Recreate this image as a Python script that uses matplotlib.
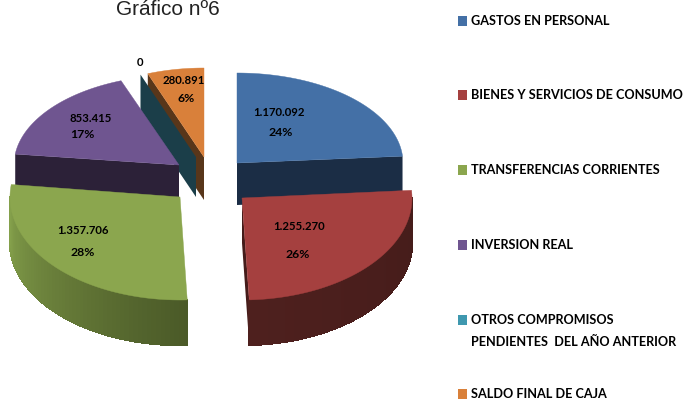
import numpy as np
import matplotlib
matplotlib.use("Agg")
import matplotlib.pyplot as plt
from matplotlib.patches import Polygon, Rectangle
from matplotlib.colors import to_rgb

# ---- data ----
title = "Gráfico nº6"
categories = ["GASTOS EN PERSONAL", "BIENES Y SERVICIOS DE CONSUMO",
              "TRANSFERENCIAS CORRIENTES", "INVERSION REAL",
              "OTROS COMPROMISOS\nPENDIENTES  DEL AÑO ANTERIOR", "SALDO FINAL DE CAJA"]
values = [1170092, 1255270, 1357706, 853415, 0, 280891]

# ---- style / layout (pixel space of the 688x401 figure) ----
top_colors = ["#4470A6", "#A5403F", "#8BA64E", "#6F5590", "#3F98AF", "#D9803A"]
side_colors = ["#1B2D45", "#4E201E", "#4B5A28", "#2C2138", "#1B3E49", "#58361A"]
rim_light = ["#1B2D45", "#451C1A", "#84A04B", "#2C2138", "#1B3E49", "#58361A"]
centers = [(237, 163), (242, 198), (180, 197), (179, 165), (196, 157), (204, 157)]
radii = [(166, 90), (170, 102), (170, 103), (165, 90), (158, 88), (160, 89)]
depths = [42, 45, 45, 42, 40, 43]
faces = ["end", "end", None, "start", "start", "start"]
draw_order = [5, 4, 3, 0, 2, 1]
legend_y = [21, 95, 170, 245, 320, 394]
label_pos = [((279, 112), (281, 133)), ((299, 227), (298, 255)), ((83, 231), (83, 253)),
             ((91, 119), (82, 134)), ((140, 63), None), ((184, 81), (186, 98))]

plt.rcParams["font.family"] = ["Lato", "DejaVu Sans"]
fig = plt.figure(figsize=(6.88, 4.01), dpi=100, facecolor="white")
ax = fig.add_axes([0, 0, 1, 1])
ax.set_xlim(0, 688)
ax.set_ylim(401, 0)
ax.axis("off")

total = sum(values)
edges = np.concatenate([[0], np.cumsum(values)]) / total * 360.0


def pt(i, theta):
    t = np.radians(theta)
    return (centers[i][0] + radii[i][0] * np.sin(t),
            centers[i][1] - radii[i][1] * np.cos(t))


def blend(a, b, f):
    a, b = np.array(to_rgb(a)), np.array(to_rgb(b))
    return tuple(a + (b - a) * f)


for i in draw_order:
    a0, a1 = edges[i], edges[i + 1]
    d = depths[i]
    cx, cy = centers[i]
    if faces[i]:
        px, py = pt(i, a0 if faces[i] == "start" else a1)
        ax.add_patch(Polygon([(cx, cy), (px, py), (px, py + d), (cx, cy + d)],
                             closed=True, fc=side_colors[i] if i != 1 else rim_light[i],
                             ec="none", lw=0))
    r0, r1 = max(a0, 90), min(a1, 270)
    if r1 > r0:
        th = np.linspace(r0, r1, 60)
        # red fades from its end towards its start, green from its start towards its end
        for k in range(len(th) - 1):
            x0, y0 = pt(i, th[k])
            x1, y1 = pt(i, th[k + 1])
            f = k / (len(th) - 2)
            c = blend(side_colors[i], rim_light[i], f ** 1.1 if i != 1 else 1 - f)
            ax.add_patch(Polygon([(x0, y0), (x1, y1), (x1, y1 + d), (x0, y0 + d)],
                                 closed=True, fc=c, ec=c, lw=1.0, antialiased=False))
    if a1 > a0:
        th = np.linspace(a0, a1, 120)
        arc = [pt(i, t) for t in th]
        ax.add_patch(Polygon([(cx, cy)] + arc, closed=True,
                             fc=top_colors[i], ec=top_colors[i], lw=0.3))

# value and percentage labels
for i, (p_val, p_pct) in enumerate(label_pos):
    ax.text(p_val[0], p_val[1], f"{values[i]:,}".replace(",", "."), ha="center", va="center",
            fontsize=8.2, fontweight="bold", color="black")
    if p_pct:
        ax.text(p_pct[0], p_pct[1], f"{values[i] / total * 100:.0f}%", ha="center", va="center",
                fontsize=8.8, fontweight="bold", color="black")

# title
ax.text(167.5, 15, title, ha="center", va="baseline", fontsize=15,
        family="Liberation Sans", color="#222222")

# legend
for i, (cat, y) in enumerate(zip(categories, legend_y)):
    ax.add_patch(Rectangle((458, y - 5), 9, 10, fc=top_colors[i], ec="none"))
    lines = cat.split("\n")
    for j, line in enumerate(lines):
        ax.text(471, y + j * 22, line, ha="left", va="center",
                fontsize=9.1, fontweight="bold", color="black")

fig.savefig("out.png", dpi=100, facecolor="white")
